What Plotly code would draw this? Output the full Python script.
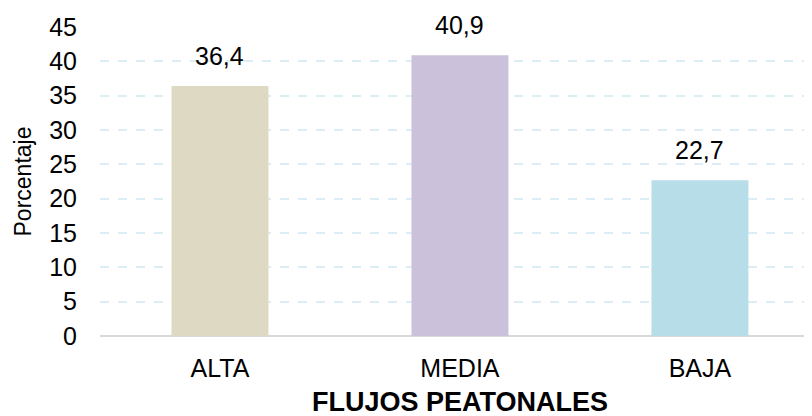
import plotly.graph_objects as go

# Datos
categorias = ["ALTA", "MEDIA", "BAJA"]
porcentajes = [36.4, 40.9, 22.7]
colores = ["#DDD9C3", "#CCC1DA", "#B7DDE8"]
y_ticks = [0, 5, 10, 15, 20, 25, 30, 35, 40, 45]
titulo_x = "FLUJOS PEATONALES"

fig = go.Figure()
fig.add_trace(go.Bar(
    x=categorias,
    y=porcentajes,
    marker=dict(color=colores, line=dict(width=0)),
    width=0.404,
    hoverinfo="x+y",
))

# Etiquetas de valor (coma decimal)
for cat, val in zip(categorias, porcentajes):
    fig.add_annotation(
        x=cat, y=val,
        text=f"{val:.1f}".replace(".", ","),
        showarrow=False,
        yanchor="bottom",
        yshift=14,
        font=dict(size=25, color="#000000"),
    )

# título del eje x, centrado en la categoría central (el gráfico original está recortado a la derecha)
fig.add_annotation(
    x=categorias[1], xref="x",
    y=-0.212, yref="paper",
    yanchor="middle",
    text=f"<b>{titulo_x}</b>",
    showarrow=False,
    font=dict(size=27, color="#000000"),
)

# la página deja 8px de margen, así que el lienzo es algo más pequeño
fig.update_layout(
    width=804, height=408,
    margin=dict(l=92, r=0, t=19, b=80),
    paper_bgcolor="white",
    plot_bgcolor="white",
    font=dict(family="Liberation Sans, Arial, sans-serif", size=25, color="#000000"),
    showlegend=False,
    separators=", ",
)

fig.update_xaxes(
    range=[-0.5, 2.467],
    automargin=False,
    showgrid=False,
    showline=False,
    ticks="",
    ticklabelstandoff=15,
    tickfont=dict(size=25),
)

fig.update_yaxes(
    range=[0, 45],
    automargin=False,
    tickvals=y_ticks,
    showgrid=True,
    gridcolor="#DCEEF5",
    gridwidth=2,
    griddash="dash",
    zeroline=True,
    zerolinecolor="#D9D9D9",
    zerolinewidth=2,
    showline=False,
    ticks="",
    ticklabelstandoff=22,
    tickfont=dict(size=25),
    title=dict(text="Porcentaje", font=dict(size=23), standoff=11),
)

fig.write_html("out.html")
